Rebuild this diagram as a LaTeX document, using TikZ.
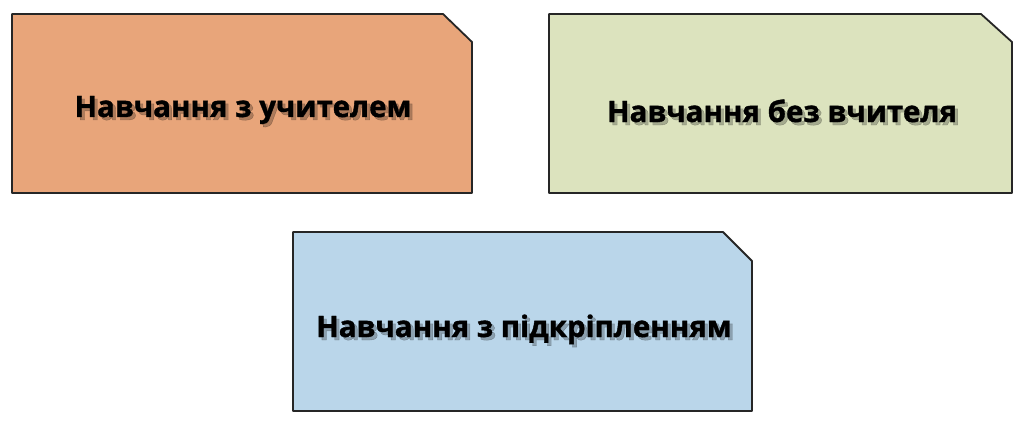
\documentclass[tikz,border=0pt]{standalone}
\usepackage{fontspec}
\setmainfont{Open Sans}[BoldFeatures={FakeBold=1.2}]
\begin{document}
\begin{tikzpicture}[x=1pt,y=-1pt,
  card/.style={draw=black!85, line width=1.8pt, line join=round},
  lbl/.style={font=\fontsize{29.5}{34}\selectfont\bfseries, anchor=base, inner sep=0pt},
  shadowlbl/.style={lbl, text=black, opacity=0.25}]
\definecolor{orangecard}{HTML}{E8A57A}
\definecolor{greencard}{HTML}{DCE3BE}
\definecolor{bluecard}{HTML}{BAD6EA}
\useasboundingbox (0,0) rectangle (1024,425);
\fill[white] (0,0) rectangle (1024,425);
% cards
\draw[card, fill=orangecard] (12,14) -- (443,14) -- (472,42) -- (472,193) -- (12,193) -- cycle;
\draw[card, fill=greencard] (549,14) -- (981,14) -- (1012,42) -- (1012,193) -- (549,193) -- cycle;
\draw[card, fill=bluecard] (293,232) -- (723,232) -- (752,261) -- (752,411) -- (293,411) -- cycle;
% labels with soft shadow
\node[shadowlbl] (s1) at (246,120) {Навчання з учителем};
\node[shadowlbl] (s2) at (785,125) {Навчання без вчителя};
\node[shadowlbl] (s3) at (527,340) {Навчання з підкріпленням};
\node[lbl] (t1) at (243,117) {Навчання з учителем};
\node[lbl] (t2) at (782,122) {Навчання без вчителя};
\node[lbl] (t3) at (524,337) {Навчання з підкріпленням};
\end{tikzpicture}
\end{document}
